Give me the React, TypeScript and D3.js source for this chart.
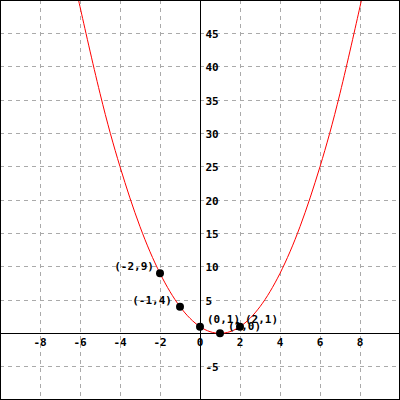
import React from "react";
import * as d3 from "d3";

const W = 400;
const H = 400;
const xDomain: [number, number] = [-10, 10];
const yDomain: [number, number] = [-10, 50];

const xTicks = [-8, -6, -4, -2, 0, 2, 4, 6, 8];
const xGrid = [-8, -6, -4, -2, 2, 4, 6, 8];
const yTicks = [-5, 5, 10, 15, 20, 25, 30, 35, 40, 45];

// curve samples
const curveX = [-6.1, -6, -5, -4, -3, -2, -1, 0, 1, 2, 3, 4, 5, 6, 7, 8, 8.1];
const curveY = [50.4, 49, 36, 25, 16, 9, 4, 1, 0, 1, 4, 9, 16, 25, 36, 49, 50.4];

const ptX = [-2, -1, 0, 1, 2];
const ptY = [9, 4, 1, 0, 1];
const ptLabels = ["(-2,9)", "(-1,4)", "(0,1)", "(1,0)", "(2,1)"];
const ptAnchor = ["end", "end", "start", "start", "start"];
const ptDx = [-6, -8, 7, 8, 5];
const ptDy = [-3, -3, -4, -3, -4];

const FONT = "'DejaVu Sans Mono', 'Liberation Mono', monospace";

export default function App() {
  const x = d3.scaleLinear().domain(xDomain).range([0, W]);
  const y = d3.scaleLinear().domain(yDomain).range([H, 0]);
  const cx = (v: number) => Math.floor(x(v)) + 0.5;
  const cy = (v: number) => Math.floor(y(v)) + 0.5;

  const line = d3
    .line<number>()
    .x((_, i) => x(curveX[i]))
    .y((d) => y(d))
    .curve(d3.curveNatural);

  return (
    <svg
      width={W}
      height={H}
      style={{ position: "absolute", left: 0, top: 0, background: "#fff" }}
    >
      <defs>
        <clipPath id="plot">
          <rect x={0} y={0} width={W} height={H} />
        </clipPath>
      </defs>
      <rect x={0} y={0} width={W} height={H} fill="#fff" />
      {xGrid.map((t) => (
        <line
          key={"gx" + t}
          x1={cx(t)}
          x2={cx(t)}
          y1={0}
          y2={H}
          stroke="#aaa"
          strokeDasharray="4,4"
        />
      ))}
      {yTicks.map((t) => (
        <line
          key={"gy" + t}
          x1={0}
          x2={W}
          y1={cy(t)}
          y2={cy(t)}
          stroke="#aaa"
          strokeDasharray="4,4"
        />
      ))}
      <line x1={0} x2={W} y1={cy(0)} y2={cy(0)} stroke="#000" />
      <line x1={cx(0)} x2={cx(0)} y1={0} y2={H} stroke="#000" />
      {xTicks.map((t) => (
        <text
          key={"tx" + t}
          x={x(t)}
          y={cy(0) + 12}
          textAnchor="middle"
          fontFamily={FONT}
          fontWeight="bold"
          fontSize={11}
          fill="#000"
        >
          {t}
        </text>
      ))}
      {yTicks.map((t) => (
        <text
          key={"ty" + t}
          x={cx(0) + 5}
          y={cy(t) + 4}
          textAnchor="start"
          fontFamily={FONT}
          fontWeight="bold"
          fontSize={11}
          fill="#000"
        >
          {t}
        </text>
      ))}
      <path
        d={line(curveY) || ""}
        fill="none"
        stroke="#f00"
        strokeWidth={1}
        clipPath="url(#plot)"
      />
      {ptX.map((px, i) => (
        <circle key={"p" + i} cx={x(px)} cy={y(ptY[i])} r={4} fill="#000" />
      ))}
      {ptX.map((px, i) => (
        <text
          key={"pl" + i}
          x={x(px) + ptDx[i]}
          y={y(ptY[i]) + ptDy[i]}
          textAnchor={ptAnchor[i] as any}
          fontFamily={FONT}
          fontWeight="bold"
          fontSize={11}
          fill="#000"
        >
          {ptLabels[i]}
        </text>
      ))}
      <rect x={0.5} y={0.5} width={W - 1} height={H - 1} fill="none" stroke="#000" />
    </svg>
  );
}
